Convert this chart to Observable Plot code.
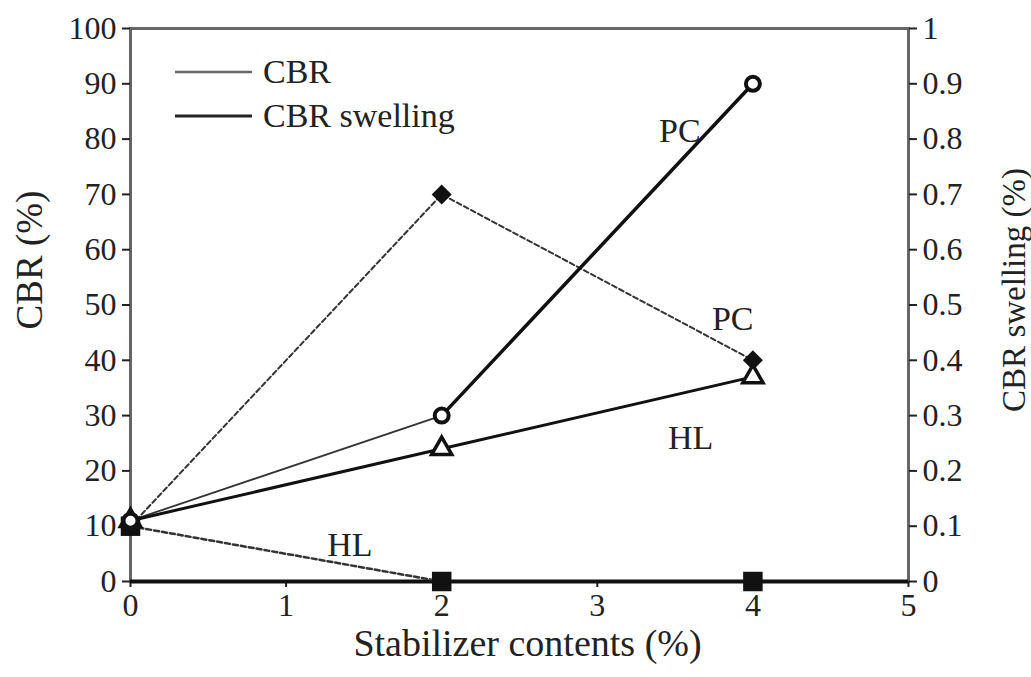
<!DOCTYPE html>
<html>
<head>
<meta charset="utf-8">
<script src="https://cdn.jsdelivr.net/npm/d3@7"></script>
<script src="https://cdn.jsdelivr.net/npm/@observablehq/plot@0.6"></script>
<style>
  html, body { margin: 0; padding: 0; background: #fff; }
  #wrap { position: relative; width: 1031px; height: 677px; }
  #legend { position: absolute; left: 172px; top: 50px; font-family: "Liberation Serif", "Times New Roman", serif; font-size: 34px; color: #222; }
  #legend .row { display: flex; align-items: center; height: 44px; }
  #legend svg { margin-right: 9px; }
</style>
</head>
<body>
<div id="wrap">
  <div id="legend">
    <div class="row"><svg width="82" height="10"><line x1="3" x2="80" y1="5" y2="5" stroke="#666" stroke-width="2.5"/></svg><span>CBR</span></div>
    <div class="row"><svg width="82" height="10"><line x1="3" x2="80" y1="5" y2="5" stroke="#222" stroke-width="3"/></svg><span>CBR swelling</span></div>
  </div>
</div>
<script>
// Stabilizer contents (%) tested
const contents = [0, 2, 4];
// CBR (%) on the left axis
const cbrPC = [11, 30, 90];
const cbrHL = [11, 24, 37];
// CBR swelling (%) on the right axis
const swellPC = [0.1, 0.7, 0.4];
const swellHL = [0.1, 0, 0];

// Axis ticks
const xTicks = [0, 1, 2, 3, 4, 5];
const leftTicks = [0, 10, 20, 30, 40, 50, 60, 70, 80, 90, 100];
const rightTickLabels = ["0", "0.1", "0.2", "0.3", "0.4", "0.5", "0.6", "0.7", "0.8", "0.9", "1"];

// Curve annotations (stabilizer, data position in left-axis units)
const curveLabels = [
  {text: "PC", x: 3.53, y: 81.5},
  {text: "PC", x: 3.87, y: 47.5},
  {text: "HL", x: 3.6, y: 26},
  {text: "HL", x: 1.41, y: 6.5}
];

// The swelling series share the frame: 1% swelling maps onto 100 on the CBR scale
const swellScale = 100;
const rows = (ys, k = 1) => contents.map((c, i) => ({x: c, y: ys[i] * k}));

const pcCbr = rows(cbrPC);
const hlCbr = rows(cbrHL);
const pcSwell = rows(swellPC, swellScale);
const hlSwell = rows(swellHL, swellScale);

const serif = "'Liberation Serif', 'Times New Roman', serif";
const ink = "#111";

const chart = Plot.plot({
  width: 1031,
  height: 677,
  marginLeft: 130,
  marginRight: 123,
  marginTop: 28,
  marginBottom: 96,
  x: {domain: [0, 5]},
  y: {domain: [0, 100]},
  style: {fontFamily: serif, fontSize: "32px", color: "#222", background: "white", overflow: "visible"},
  marks: [
    Plot.frame({stroke: "#666", strokeWidth: 3}),
    Plot.axisY(leftTicks, {anchor: "left", tickSize: 8, tickPadding: 6, label: null, strokeWidth: 2}),
    Plot.axisY(leftTicks, {anchor: "right", tickSize: 8, tickPadding: 6, label: null, strokeWidth: 2,
      tickFormat: d => rightTickLabels[Math.round(d / 10)]}),
    Plot.axisX(xTicks, {anchor: "bottom", tickSize: 6, tickPadding: 6, label: null, strokeWidth: 2,
      tickFormat: d => String(d)}),
    Plot.ruleY([0], {stroke: ink, strokeWidth: 4}),

    // swelling curves (dashed)
    Plot.line(pcSwell, {x: "x", y: "y", stroke: "#333", strokeWidth: 2, strokeDasharray: "5,3"}),
    Plot.line(hlSwell.slice(0, 2), {x: "x", y: "y", stroke: "#333", strokeWidth: 2.5, strokeDasharray: "5,3"}),

    // CBR curves
    Plot.line(pcCbr.slice(0, 2), {x: "x", y: "y", stroke: "#333", strokeWidth: 1.8}),
    Plot.line(pcCbr.slice(1), {x: "x", y: "y", stroke: ink, strokeWidth: 3.5}),
    Plot.line(hlCbr, {x: "x", y: "y", stroke: ink, strokeWidth: 3}),

    // markers
    Plot.dot(hlSwell, {x: "x", y: "y", symbol: "square", r: 11, fill: ink}),
    Plot.dot(pcSwell, {x: "x", y: "y", symbol: "diamond2", r: 9, fill: ink}),
    Plot.dot(hlCbr, {x: "x", y: "y", symbol: "triangle", r: 7.5, stroke: ink, strokeWidth: 3.5, fill: "white"}),
    Plot.dot(pcCbr, {x: "x", y: "y", symbol: "circle", r: 7, stroke: ink, strokeWidth: 4, fill: "white"}),

    // curve annotations
    Plot.text(curveLabels, {x: "x", y: "y", text: "text", fontSize: 34, fill: "#222"}),

    // axis titles
    Plot.text(["Stabilizer contents (%)"], {frameAnchor: "bottom", dy: 74, dx: 8, fontSize: 38, fill: "#222"}),
    Plot.text(["CBR (%)"], {frameAnchor: "left", textAnchor: "middle", rotate: -90, dx: -100, dy: -45, fontSize: 37, fill: "#222"}),
    Plot.text(["CBR swelling (%)"], {frameAnchor: "right", textAnchor: "middle", rotate: -90, dx: 106, dy: -15, fontSize: 33, fill: "#222"})
  ]
});

document.getElementById("wrap").prepend(chart);
</script>
</body>
</html>
